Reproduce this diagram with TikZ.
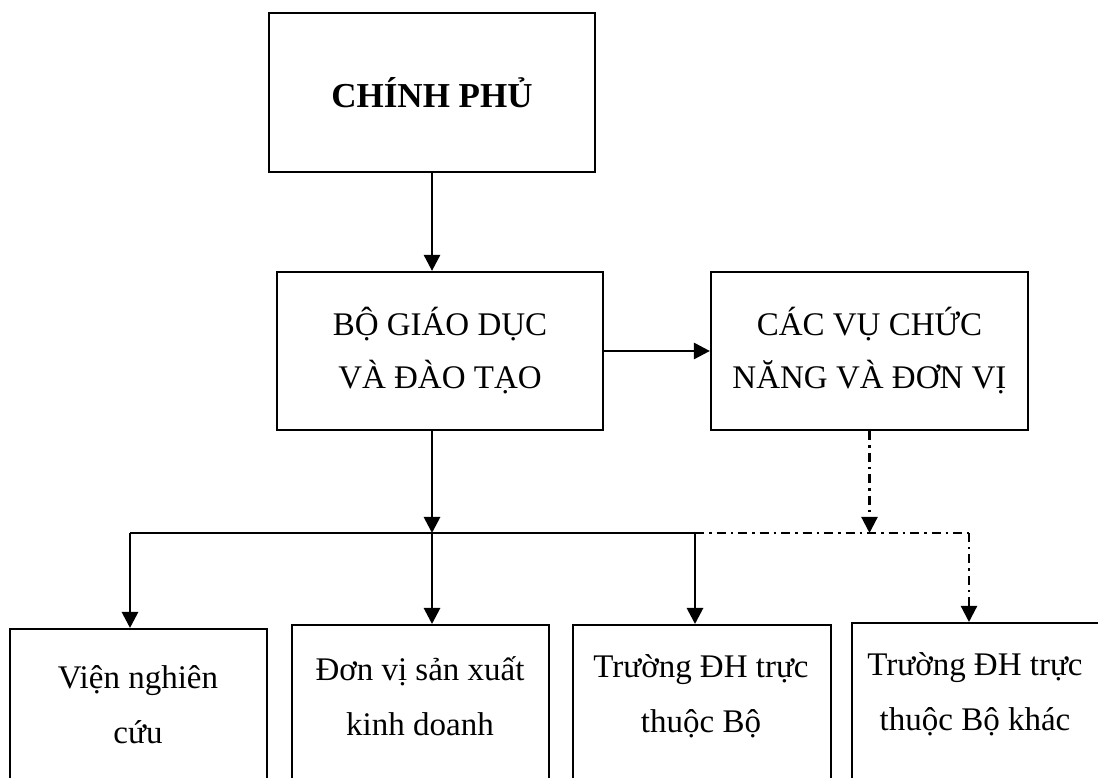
\documentclass[tikz,border=0pt]{standalone}
\usepackage{fontspec}
\setmainfont{Liberation Serif}
\usetikzlibrary{arrows.meta,calc}
\begin{document}
\begin{tikzpicture}[x=1pt,y=1pt,
  box/.style={draw,line width=2.2pt,inner sep=0pt,align=center,font=\fontsize{33}{53}\selectfont},
  txt/.style={align=center,inner sep=0pt,font=\fontsize{33}{55}\selectfont},
  conn/.style={line width=2.8pt,-{Triangle[length=16pt,width=16pt]}},
  dd/.style={line width=2.2pt,dash pattern=on 9pt off 5pt on 2.5pt off 5pt},
  bus/.style={line width=2.8pt}]
\clip (0,0) rectangle (1098,778);
\useasboundingbox (0,0) rectangle (1098,778);
\fill[white] (0,0) rectangle (1098,778);
% top boxes
\node[box,minimum width=326,minimum height=159,font=\bfseries\fontsize{35}{40}\selectfont] (cp) at (432,685.5) {CHÍNH PHỦ};
\node[box,minimum width=326,minimum height=158] (bo) at (440,427) {BỘ GIÁO DỤC\\VÀ ĐÀO TẠO};
\node[box,minimum width=317,minimum height=158] (ca) at (869.5,427) {CÁC VỤ CHỨC\\NĂNG VÀ ĐƠN VỊ};
% bottom boxes
\node[box,anchor=north west,minimum width=257,minimum height=172] (b1) at (9,150) {};
\node[box,anchor=north west,minimum width=257,minimum height=176] (b2) at (291,154) {};
\node[box,anchor=north west,minimum width=258,minimum height=176] (b3) at (572,154) {};
\node[box,anchor=north west,minimum width=300,minimum height=178] (b4) at (851,156) {};
\node[txt] (t1) at (138,73.5) {Viện nghiên\\cứu};
\node[txt] (t2) at (420,81.5) {Đơn vị sản xuất\\kinh doanh};
\node[txt] (t3) at (701,82) {Trường ĐH trực\\thuộc Bộ};
\node[txt] (t4) at (975,83.5) {Trường ĐH trực\\thuộc Bộ khác};
% bus coordinates
\coordinate (j1) at (130,245);
\coordinate (j2) at (432,245);
\coordinate (j3) at (695,245);
\coordinate (j4) at (969,245);
% connectors
\draw[conn] (cp.south) -- (cp.south |- bo.north);
\draw[conn] (bo.east) -- (ca.west);
\draw[conn] (cp.south |- bo.south) -- (j2);
\draw[conn,dd] (ca.south) -- (ca.south |- j2);
\draw[bus] (j1) -- (j3);
\draw[dd] (j3) -- (j4);
\draw[conn] (j1) -- (j1 |- b1.north);
\draw[conn] (j2) -- (j2 |- b2.north);
\draw[conn] (j3) -- (j3 |- b3.north);
\draw[conn,dd] (j4) -- (j4 |- b4.north);
\end{tikzpicture}
\end{document}
